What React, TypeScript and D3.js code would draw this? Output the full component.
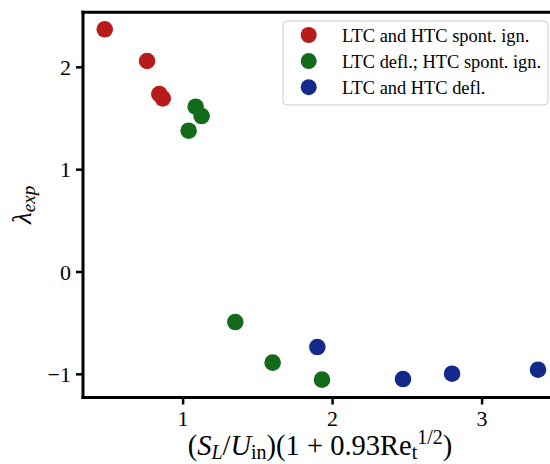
import React from "react";
import * as d3 from "d3";

const redX = [0.476, 0.759, 0.841, 0.864];
const redY = [2.372, 2.062, 1.739, 1.697];
const greenX = [1.084, 1.124, 1.037, 1.349, 1.599, 1.929];
const greenY = [1.615, 1.524, 1.381, -0.489, -0.886, -1.052];
const blueX = [1.898, 2.471, 2.799, 3.374];
const blueY = [-0.733, -1.046, -0.994, -0.955];

const seriesNames = [
  "LTC and HTC spont. ign.",
  "LTC defl.; HTC spont. ign.",
  "LTC and HTC defl.",
];
const seriesColors = ["#b71c1c", "#136b19", "#142a8a"];
const xTicks = [1, 2, 3];
const yTicks = [-1, 0, 1, 2];

const W = 550;
const H = 464;
const left = 83;
const top = 12.3;
const bottom = 397.5;
const FONT = "Liberation Serif, DejaVu Serif, serif";

export default function App() {
  const x = d3.scaleLinear().domain([0, 1]).range([33.6, 33.6 + 149.5]);
  const y = d3.scaleLinear().domain([0, 1]).range([272, 272 - 102.33]);
  const series = [
    { xs: redX, ys: redY },
    { xs: greenX, ys: greenY },
    { xs: blueX, ys: blueY },
  ];
  return (
    <svg
      width={W}
      height={H}
      style={{ position: "absolute", left: 0, top: 0, background: "#fff", fontFamily: FONT }}
    >
      {series.map((s, si) =>
        s.xs.map((xv, i) => (
          <circle
            key={`${si}-${i}`}
            cx={x(xv)}
            cy={y(s.ys[i])}
            r={8.3}
            fill={seriesColors[si]}
          />
        ))
      )}
      {/* spines */}
      <line x1={left} x2={left} y1={top} y2={bottom} stroke="#000" strokeWidth={3} strokeLinecap="square" />
      <line x1={left} x2={W + 5} y1={bottom} y2={bottom} stroke="#000" strokeWidth={3} strokeLinecap="square" />
      <line x1={left} x2={W + 5} y1={top} y2={top} stroke="#000" strokeWidth={3} strokeLinecap="square" />
      {xTicks.map((t) => (
        <g key={`xt${t}`}>
          <line x1={x(t)} x2={x(t)} y1={bottom} y2={bottom + 7} stroke="#000" strokeWidth={2.5} />
          <text x={x(t)} y={bottom + 28} textAnchor="middle" fontSize={22}>
            {t}
          </text>
        </g>
      ))}
      {yTicks.map((t) => (
        <g key={`yt${t}`}>
          <line x1={left - 7} x2={left} y1={y(t)} y2={y(t)} stroke="#000" strokeWidth={2.5} />
          <text x={left - 12} y={y(t) + 7.5} textAnchor="end" fontSize={22}>
            {t < 0 ? "\u2212" + Math.abs(t) : t}
          </text>
        </g>
      ))}
      {/* x label */}
      <text x={(183 + 457) / 2} y={455} textAnchor="middle" fontSize={28.5}>
        (<tspan fontStyle="italic">S</tspan>
        <tspan fontStyle="italic" fontSize={20} dy={4}>L</tspan>
        <tspan dy={-4}>/</tspan>
        <tspan fontStyle="italic">U</tspan>
        <tspan fontSize={20} dy={4}>in</tspan>
        <tspan dy={-4}>)(1 + 0.93Re</tspan>
        <tspan fontSize={20} dy={4}>t</tspan>
        <tspan fontSize={20} dy={-15}>1/2</tspan>
        <tspan dy={11}>)</tspan>
      </text>
      {/* y label */}
      <text
        transform={`translate(31, ${(top + bottom) / 2}) rotate(-90)`}
        textAnchor="middle"
        fontSize={27}
        fontStyle="italic"
      >
        λ<tspan fontSize={19} dy={4}>exp</tspan>
      </text>
      {/* legend */}
      <rect x={283} y={21} width={265} height={84} rx={4} fill="#fff" fillOpacity={0.8} stroke="#cccccc" strokeWidth={1} />
      {seriesNames.map((n, i) => (
        <g key={n}>
          <circle cx={308.7} cy={35 + i * 26.1} r={8} fill={seriesColors[i]} />
          <text x={342} y={35 + i * 26.1 + 6.5} fontSize={18.4}>
            {n}
          </text>
        </g>
      ))}
    </svg>
  );
}
